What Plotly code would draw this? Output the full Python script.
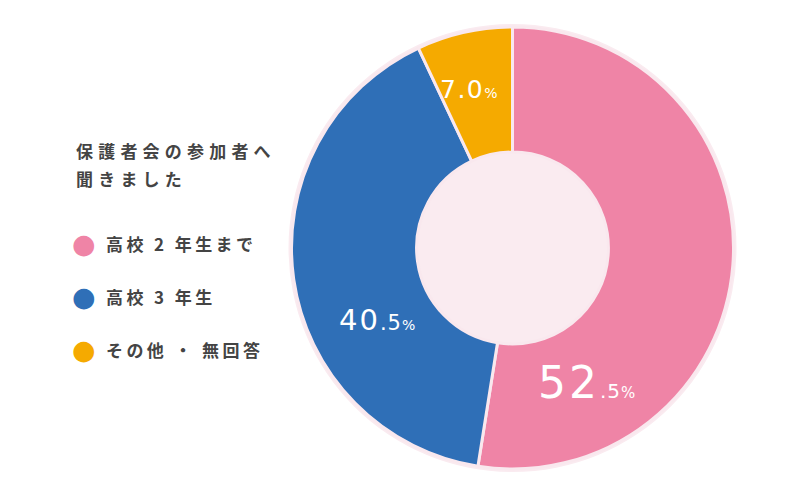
import plotly.graph_objects as go

categories = ["高校 2 年生まで", "高校 3 年生", "その他・無回答"]
legend_labels = ["高校 2 年生まで", "高校 3 年生", "その他 ・ 無回答"]
values = [52.5, 40.5, 7.0]
colors = ["#ef84a6", "#2f6fb7", "#f5aa00"]
title_lines = ["保護者会の参加者へ", "聞きました"]

RING = "#f9e8ee"
TXT = "#444444"
CJK = "Noto Sans CJK JP"
NUM = "DejaVu Sans"

W, H = 800, 496
OFF = 8  # page body margin


def px(x):
    return (x - OFF) / W


def py(y):
    return 1 - (y - OFF) / H


fig = go.Figure()

# light pink backing disc (outer ring + hole fill)
fig.add_trace(go.Pie(
    values=[1], labels=["bg"], marker=dict(colors=["#faebf0"], line=dict(width=0)),
    textinfo="none", hoverinfo="skip", showlegend=False, sort=False,
    domain=dict(x=[px(288.5), px(736.5)], y=[py(472), py(24)]),
))

fig.add_trace(go.Pie(
    labels=categories, values=values, hole=0.434, sort=False, direction="clockwise",
    rotation=0, marker=dict(colors=colors, line=dict(color=RING, width=3)),
    textinfo="none", showlegend=False,
    domain=dict(x=[px(291.5), px(733.5)], y=[py(469), py(27)]),
))


def split_num(v):
    s = f"{v:.1f}"
    a, b = s.split(".")
    return a, b


annos = []
# percentage labels
label_specs = [
    # (x, y, big size, small size, pct size, split, spacing)
    (586, 382, 44, 20, 15, True, 3),
    (377, 320, 29, 21, 14, True, 2),
    (469, 89, 25, 25, 14, False, 1.5),
]
for v, (x, y, big, small, pct, split, sp) in zip(values, label_specs):
    a, b = split_num(v)
    if split:
        txt = (f"<span style='font-size:{big}px;letter-spacing:{sp}px'>{a}</span>"
               f"<span style='font-size:{small}px;letter-spacing:1px'>.{b}</span>"
               f"<span style='font-size:{pct}px'>%</span>")
    else:
        txt = (f"<span style='font-size:{big}px;letter-spacing:{sp}px'>{a}.{b}</span>"
               f"<span style='font-size:{pct}px'>%</span>")
    annos.append(dict(x=px(x), y=py(y), xref="paper", yref="paper",
                      text=txt, showarrow=False, xanchor="center", yanchor="middle",
                      font=dict(family=NUM, color="white", size=big)))

# title
for i, line in enumerate(title_lines):
    annos.append(dict(x=px(74), y=py(150 + 28 * i), xref="paper", yref="paper",
                      text=f"<span style='letter-spacing:5.2px'>{line}</span>",
                      showarrow=False, xanchor="left", yanchor="middle",
                      font=dict(family=CJK, color=TXT, size=17, weight="bold")))

# legend
for i, (lab, col) in enumerate(zip(legend_labels, colors)):
    yy = py(243 + 53 * i)
    annos.append(dict(x=px(84), y=yy, xref="paper", yref="paper", text="●",
                      showarrow=False, xanchor="center", yanchor="middle",
                      font=dict(family="DejaVu Sans", color=col, size=27)))
    annos.append(dict(x=px(104), y=yy, xref="paper", yref="paper",
                      text=f"<span style='letter-spacing:3.4px'>{lab}</span>",
                      showarrow=False, xanchor="left", yanchor="middle",
                      font=dict(family=CJK, color=TXT, size=17, weight="bold")))

fig.update_layout(
    width=W, height=H, margin=dict(l=0, r=0, t=0, b=0),
    paper_bgcolor="white", plot_bgcolor="white",
    annotations=annos, showlegend=False,
)

fig.write_html("out.html")
